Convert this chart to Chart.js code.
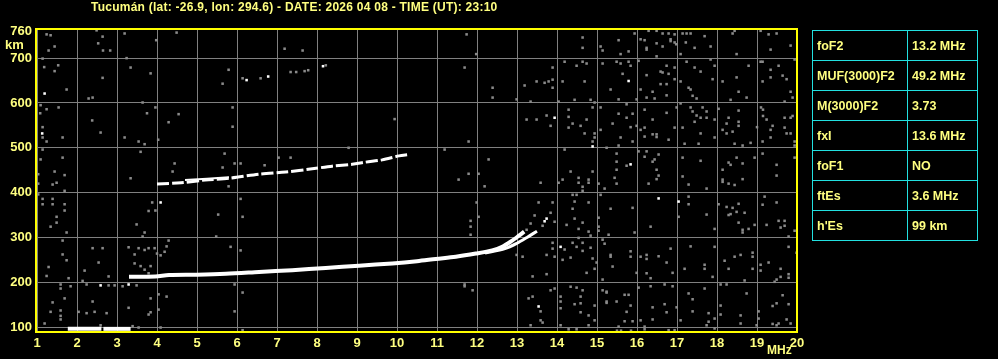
<!DOCTYPE html>
<html>
<head>
<meta charset="utf-8">
<script src="https://cdn.jsdelivr.net/npm/chart.js@4/dist/chart.umd.min.js"></script>
<style>
  body { margin: 0; background: #000; }
  #wrap { position: relative; width: 998px; height: 359px; }
  #title { position: absolute; left: 91px; top: 0px; color: #ffff80; font: bold 12px "Liberation Sans", Arial, sans-serif; letter-spacing: 0.25px; line-height: 14px; white-space: nowrap; }
  #params { position: absolute; left: 812px; top: 30px; border-collapse: collapse; }
  #params td { border: 1px solid #22e0e0; color: #ffff80; font: bold 12.5px "Liberation Sans", Arial, sans-serif; height: 29px; padding: 0 0 0 4px; }
  #params td.k { width: 90px; }
  #params td.v { width: 65px; }
</style>
</head>
<body>
<div id="wrap">
  <canvas id="iono"></canvas>
  <div id="title">Tucumán (lat: -26.9, lon: 294.6) - DATE: 2026 04 08 - TIME (UT): 23:10</div>
  <table id="params"></table>
</div>
<script>
// frequency (MHz) / virtual height (km) pairs
const esTraceA = [[1.77, 96], [2.61, 96]];
const esTraceB = [[2.66, 96], [3.34, 96]];
const fTraceO = [[3.3, 212], [3.96, 213], [4.3, 216], [5.0, 217], [5.72, 219], [6.55, 223], [7.38, 227], [8.22, 232],
  [9.05, 237], [9.88, 242], [10.5, 247], [10.97, 252], [11.47, 257], [11.97, 264], [12.38, 271], [12.63, 279],
  [12.85, 291], [13.05, 304], [13.18, 313]];
const fTraceX = [[12.2, 265], [12.7, 275], [13.0, 287], [13.25, 300], [13.5, 314]];
const f2Trace = [[4.0, 419], [4.6, 422], [5.2, 428], [5.8, 432], [6.55, 441], [7.22, 446], [7.88, 453], [8.38, 459],
  [8.88, 463], [9.22, 468], [9.63, 473], [10.05, 482], [10.28, 485]];
const f2Upper = [[4.7, 428], [5.8, 434]];
const brightDots = [[1.19, 621], [1.13, 532], [4.09, 378], [2.59, 193], [3.29, 195], [6.24, 651], [6.78, 659], [8.15, 682],
  [13.94, 567], [14.09, 279], [13.54, 146], [14.89, 503], [15.79, 649], [15.84, 463], [16.54, 387], [17.04, 380],
  [13.69, 336], [13.74, 342]];
const noise = [
  [1.24, 753], [1.34, 751], [2.49, 762], [2.64, 748], [2.53, 733], [3.19, 755], [3.98, 740], [4.49, 757],
  [1.29, 717], [1.44, 726], [2.65, 717], [2.83, 717], [3.24, 700], [1.14, 699], [1.18, 680], [1.53, 684], [1.44, 671],
  [3.34, 679], [2.64, 656], [3.84, 666], [1.74, 630], [2.29, 610], [2.39, 612], [3.64, 601], [1.09, 595], [1.24, 586],
  [1.54, 590], [1.08, 577], [3.96, 590], [3.75, 577], [4.54, 575], [2.38, 561], [4.29, 557], [1.14, 546], [1.14, 523],
  [1.24, 514], [1.64, 523], [2.59, 534], [3.19, 523], [3.54, 514], [3.69, 508], [4.03, 518], [5.64, 643], [1.14, 496],
  [1.64, 478], [1.09, 474], [3.59, 491], [5.69, 487], [4.44, 465], [4.39, 447], [5.64, 456], [1.03, 441], [1.03, 420],
  [1.44, 447], [1.69, 439], [1.39, 418], [1.49, 422], [3.34, 432], [1.69, 404], [1.03, 396], [1.14, 386], [1.39, 386],
  [1.14, 374], [1.39, 374], [1.69, 374], [1.69, 360], [1.49, 346], [1.49, 333], [1.34, 324], [1.74, 311], [3.49, 329],
  [3.69, 311], [3.64, 302], [3.79, 359], [3.88, 378], [3.96, 360], [5.53, 351], [5.48, 302], [4.29, 293], [1.64, 293],
  [1.64, 262], [1.74, 249], [1.29, 234], [1.24, 214], [2.39, 276], [2.64, 276], [2.54, 244], [2.19, 226], [3.29, 278],
  [3.44, 262], [3.54, 276], [3.69, 272], [3.79, 276], [3.94, 276], [3.44, 242], [3.59, 236], [3.69, 228], [3.84, 236],
  [3.79, 220], [4.0, 264], [4.09, 260], [4.19, 268], [4.24, 280], [1.79, 209], [1.84, 191], [2.14, 203], [2.24, 195],
  [1.59, 195], [1.59, 186], [2.79, 213], [3.14, 191], [3.49, 193], [2.94, 193], [2.79, 193], [1.39, 155], [1.69, 164],
  [2.39, 157], [1.34, 134], [1.59, 137], [2.04, 134], [2.24, 131], [2.44, 134], [2.74, 131], [1.59, 117], [1.59, 125],
  [3.29, 143], [3.84, 164], [4.24, 168], [4.04, 173], [4.04, 139], [3.79, 128], [3.84, 133], [1.19, 108], [2.59, 104],
  [3.54, 99], [4.09, 99], [3.39, 102],
  [5.79, 674], [6.14, 655], [6.59, 655], [7.34, 669], [7.48, 669], [7.69, 671], [7.78, 673], [8.22, 684], [7.19, 721],
  [7.64, 717], [5.89, 590], [5.89, 547], [9.94, 564], [8.79, 500], [5.94, 465], [6.09, 465], [7.04, 478], [7.34, 478],
  [6.69, 461], [6.09, 386], [6.14, 346], [5.84, 279], [6.09, 271], [5.94, 195], [6.14, 177], [5.94, 135], [6.14, 93],
  [5.79, 414],
  [11.74, 753], [11.98, 709], [11.69, 679], [12.39, 634], [12.39, 612], [12.99, 608], [13.19, 639], [13.34, 603],
  [13.49, 648], [13.69, 645], [13.79, 648], [13.89, 652], [13.89, 679], [13.89, 634], [14.14, 648], [14.19, 692],
  [14.49, 683], [14.64, 692], [14.74, 688], [14.64, 746], [14.64, 723], [15.09, 726], [15.14, 717], [14.69, 648],
  [15.14, 688], [14.04, 603], [14.44, 607], [14.84, 607], [14.94, 601], [14.89, 590], [15.09, 590], [13.24, 563],
  [13.49, 563], [13.74, 572], [13.84, 549], [14.29, 585], [14.29, 569], [14.29, 545], [14.39, 554], [14.59, 549],
  [14.74, 563], [14.69, 532], [14.94, 532], [14.94, 523], [15.09, 540], [14.89, 514], [15.24, 500], [14.19, 496],
  [11.79, 514], [11.19, 496], [12.29, 474], [11.79, 442], [12.04, 442], [11.54, 429], [12.19, 414], [13.59, 422],
  [14.04, 422], [14.14, 429], [14.34, 447], [14.54, 433], [14.54, 422], [14.79, 429], [14.79, 422], [14.64, 413],
  [14.64, 404], [14.89, 447], [15.04, 420], [15.19, 409], [14.39, 395], [14.49, 395], [14.44, 380], [14.39, 364],
  [14.79, 378], [15.09, 395], [11.99, 378], [12.04, 346], [11.84, 337], [11.84, 324], [11.84, 306], [13.54, 378],
  [13.89, 378], [13.44, 349], [13.84, 355], [13.94, 335], [13.34, 331], [13.24, 317], [13.64, 326], [14.24, 328],
  [14.44, 342], [14.54, 319], [14.64, 333], [14.79, 313], [14.84, 304], [15.04, 344], [15.04, 324], [15.04, 315],
  [15.14, 295], [14.39, 288], [14.49, 279], [14.54, 299], [13.89, 288], [13.89, 275], [14.19, 273], [14.14, 250],
  [14.34, 255], [14.64, 288], [14.64, 270], [14.84, 277], [14.89, 253], [14.99, 244], [14.94, 230], [15.19, 286],
  [13.94, 257], [13.74, 261], [13.14, 257], [12.99, 261], [13.39, 213], [13.74, 218], [14.74, 221], [15.14, 206],
  [11.69, 195], [11.69, 191], [11.89, 182], [13.29, 164], [13.39, 168], [13.59, 135], [13.59, 115], [13.64, 110],
  [13.34, 104], [13.84, 182], [13.94, 186], [14.09, 168], [14.09, 157], [14.09, 142], [14.34, 190], [14.49, 188],
  [14.64, 182], [14.59, 168], [14.59, 153], [14.59, 133], [14.44, 151], [14.79, 126], [14.94, 148], [14.79, 104],
  [14.94, 115], [15.14, 182], [15.24, 177], [15.24, 157], [14.29, 95], [14.49, 95], [14.09, 104],
  [15.94, 755], [16.29, 761], [16.49, 761], [16.09, 742], [16.19, 740], [16.24, 723], [16.24, 719], [16.64, 755],
  [16.79, 755], [16.94, 753], [16.49, 733], [16.64, 726], [16.84, 742], [16.84, 738], [16.94, 735], [17.14, 755],
  [17.24, 755], [17.34, 755], [17.22, 735], [17.09, 709], [17.44, 723], [17.69, 749], [17.84, 726], [15.54, 740],
  [15.59, 709], [15.79, 715], [18.39, 755], [18.44, 761], [18.49, 709], [19.09, 761], [19.29, 753], [19.49, 755],
  [19.34, 719], [19.84, 728], [16.49, 704], [16.98, 731],
  [15.49, 692], [15.59, 688], [15.79, 692], [15.84, 683], [16.04, 694], [15.64, 665], [15.34, 630], [15.54, 608],
  [15.99, 608], [16.24, 662], [16.59, 670], [16.64, 668], [16.74, 683], [16.79, 665], [16.94, 679], [16.59, 642],
  [16.74, 642], [16.94, 653], [16.24, 612], [16.44, 610], [16.74, 617], [16.09, 630], [16.39, 625], [17.09, 648],
  [17.24, 692], [17.44, 679], [17.59, 670], [17.29, 634], [17.34, 630], [17.39, 616], [17.49, 610], [17.09, 599],
  [17.84, 697], [17.94, 683], [17.89, 653], [18.14, 648], [18.49, 657], [18.54, 625], [18.79, 683], [18.34, 607],
  [18.74, 612], [19.09, 692], [19.14, 692], [19.34, 674], [19.14, 648], [19.34, 657], [19.54, 683], [19.64, 661],
  [19.74, 653], [19.84, 625], [19.89, 612], [19.69, 603], [19.94, 697],
  [15.74, 597], [15.54, 576], [15.39, 554], [15.74, 567], [15.89, 576], [15.84, 546], [15.59, 523], [15.89, 514],
  [15.54, 505], [15.99, 549], [16.19, 585], [16.09, 540], [16.19, 545], [16.19, 525], [16.39, 530], [16.49, 530],
  [16.49, 524], [16.39, 563], [16.74, 578], [16.79, 518], [16.94, 545], [16.99, 590], [17.34, 590], [17.39, 581],
  [17.49, 572], [17.59, 567], [17.64, 590], [17.74, 581], [17.74, 567], [17.94, 563], [17.44, 558], [17.14, 545],
  [17.59, 532], [17.19, 509], [17.54, 509], [17.94, 523], [18.04, 587], [18.24, 554], [18.29, 567], [18.54, 558],
  [18.54, 549], [18.14, 540], [18.24, 532], [18.39, 536], [18.54, 583], [18.44, 509], [18.64, 505], [18.84, 511],
  [19.15, 585], [19.15, 571], [19.1, 590], [19.0, 546], [19.24, 563], [19.34, 540], [19.39, 549], [19.69, 567],
  [19.84, 567], [19.89, 571], [19.69, 545], [19.74, 532], [19.84, 532], [19.14, 514], [19.34, 523], [19.94, 514],
  [19.94, 505],
  [15.49, 487], [15.49, 469], [15.74, 460], [15.49, 451], [15.44, 433], [15.49, 420], [16.24, 492], [16.04, 492],
  [16.19, 480], [16.39, 469], [16.44, 474], [16.54, 485], [16.49, 451], [16.54, 438], [16.49, 430], [16.29, 420],
  [17.14, 478], [17.14, 436], [17.29, 418], [17.59, 471], [17.74, 409], [18.14, 451], [18.14, 429], [18.14, 424],
  [18.29, 467], [18.34, 462], [18.49, 478], [18.64, 465], [18.94, 478], [18.29, 420], [18.44, 417], [18.64, 430],
  [19.49, 462], [19.49, 438], [19.94, 478], [19.14, 487],
  [15.34, 364], [15.89, 366], [16.34, 324], [17.29, 391], [17.29, 374], [17.04, 346], [17.74, 351], [17.94, 319],
  [18.04, 374], [18.24, 368], [18.39, 366], [18.29, 350], [18.34, 352], [18.54, 375], [18.49, 357], [18.69, 355],
  [18.54, 333], [18.64, 317], [18.64, 311], [18.79, 319], [18.94, 328], [19.19, 391], [19.14, 373], [19.49, 378],
  [19.54, 337], [19.59, 322], [19.69, 337], [19.69, 326], [19.24, 328], [19.79, 302], [19.94, 315], [15.29, 306],
  [15.94, 311],
  [15.34, 261], [15.34, 257], [15.39, 235], [15.84, 269], [15.84, 257], [16.84, 275], [16.09, 257], [16.24, 261],
  [16.24, 252], [16.54, 258], [16.74, 244], [16.24, 220], [16.34, 209], [16.89, 221], [17.34, 280], [17.19, 230],
  [17.69, 239], [17.69, 230], [17.89, 212], [17.94, 279], [18.19, 248], [18.29, 230], [18.44, 257], [18.59, 261],
  [18.89, 266], [18.89, 257], [18.89, 230], [18.69, 204], [19.09, 239], [19.09, 226], [19.29, 244], [19.44, 201],
  [19.49, 206], [19.59, 212], [19.79, 210], [19.79, 218], [19.59, 230], [19.79, 279], [19.99, 266], [15.99, 221],
  [15.24, 179], [15.24, 154], [15.49, 157], [15.69, 172], [15.79, 172], [15.74, 134], [15.84, 148], [15.69, 113],
  [15.89, 113], [15.54, 101], [16.04, 188], [16.34, 191], [16.69, 195], [16.89, 191], [16.09, 115], [16.19, 101],
  [16.39, 144], [16.39, 117], [16.69, 151], [16.74, 133], [16.79, 93], [16.99, 144], [16.94, 93], [17.29, 175],
  [17.39, 162], [17.39, 135], [17.09, 115], [17.69, 186], [17.79, 131], [17.79, 112], [17.94, 119], [17.74, 104],
  [17.94, 97], [18.09, 195], [18.24, 195], [18.09, 148], [18.09, 128], [18.74, 175], [18.59, 126], [18.59, 108],
  [19.04, 135], [19.04, 119], [19.39, 147], [19.49, 153], [19.39, 107], [19.49, 104], [19.64, 171], [19.79, 151],
  [19.54, 108], [19.84, 108], [19.74, 117], [18.99, 104], [16.19, 95], [15.5, 92], [15.6, 92], [15.85, 92]
];
const freqTicks = [1, 2, 3, 4, 5, 6, 7, 8, 9, 10, 11, 12, 13, 14, 15, 16, 17, 18, 19, 20];
const heightTicks = [100, 200, 300, 400, 500, 600, 700, 760];
const paramNames = ['foF2', 'MUF(3000)F2', 'M(3000)F2', 'fxI', 'foF1', 'ftEs', "h'Es"];
const paramValues = ['13.2 MHz', '49.2 MHz', '3.73', '13.6 MHz', 'NO', '3.6 MHz', '99 km'];

const toXY = arr => arr.map(p => ({ x: p[0], y: p[1] }));
const tickFont = { family: '"Liberation Sans", Arial, sans-serif', size: 13, weight: 'bold' };

document.getElementById('params').innerHTML = paramNames
  .map((n, i) => `<tr><td class="k">${n}</td><td class="v">${paramValues[i]}</td></tr>`).join('');

const frame = {
  id: 'frame',
  afterDraw(chart) {
    const { ctx, chartArea: a } = chart;
    ctx.save();
    ctx.strokeStyle = '#ffff00';
    ctx.lineWidth = 2;
    ctx.strokeRect(a.left - 1, a.top, a.right - a.left + 1, a.bottom - a.top);
    ctx.fillStyle = '#ffff80';
    ctx.font = 'bold 13px "Liberation Sans", Arial, sans-serif';
    ctx.textBaseline = 'middle';
    ctx.fillText('km', 5, 45);
    ctx.font = 'bold 12px "Liberation Sans", Arial, sans-serif';
    ctx.fillText('MHz', 767, 351);
    ctx.restore();
  }
};

const trace = (data, width) => ({
  type: 'line', data: toXY(data), borderColor: '#ffffff', borderWidth: width,
  pointRadius: 0, tension: 0.3, order: 0
});

new Chart(document.getElementById('iono'), {
  type: 'scatter',
  data: {
    datasets: [
      { data: toXY(noise), backgroundColor: '#8a8a8a', pointStyle: 'rect', pointRadius: 1.8, pointBorderWidth: 0, order: 2 },
      { data: toXY(brightDots), backgroundColor: '#ffffff', pointStyle: 'rect', pointRadius: 1.8, pointBorderWidth: 0, order: 1 },
      trace(esTraceA, 4),
      trace(esTraceB, 4),
      trace(fTraceO, 4),
      trace(fTraceX, 3),
      Object.assign(trace(f2Trace, 3), { borderDash: [12, 3] }),
      trace(f2Upper, 2)
    ]
  },
  options: {
    responsive: true,
    maintainAspectRatio: false,
    animation: false,
    events: [],
    layout: { padding: { top: 29, right: 201, left: 0, bottom: 0 } },
    plugins: { legend: { display: false }, tooltip: { enabled: false } },
    scales: {
      x: {
        type: 'linear', min: 1, max: 20,
        afterBuildTicks: s => { s.ticks = freqTicks.map(v => ({ value: v })); },
        afterFit: s => { s.height = 27; },
        border: { display: false },
        grid: { color: '#808080', drawTicks: false, lineWidth: 1 },
        ticks: { color: '#ffff80', font: tickFont, padding: 4, maxRotation: 0 }
      },
      y: {
        type: 'linear', min: 89, max: 765,
        afterBuildTicks: s => { s.ticks = heightTicks.map(v => ({ value: v })); },
        afterFit: s => { s.width = 37; },
        border: { display: false },
        grid: { color: c => c.tick && c.tick.value === 760 ? 'transparent' : '#808080', drawTicks: false, lineWidth: 1 },
        ticks: { color: '#ffff80', font: tickFont, padding: 5 }
      }
    }
  },
  plugins: [frame]
});
</script>
</body>
</html>
